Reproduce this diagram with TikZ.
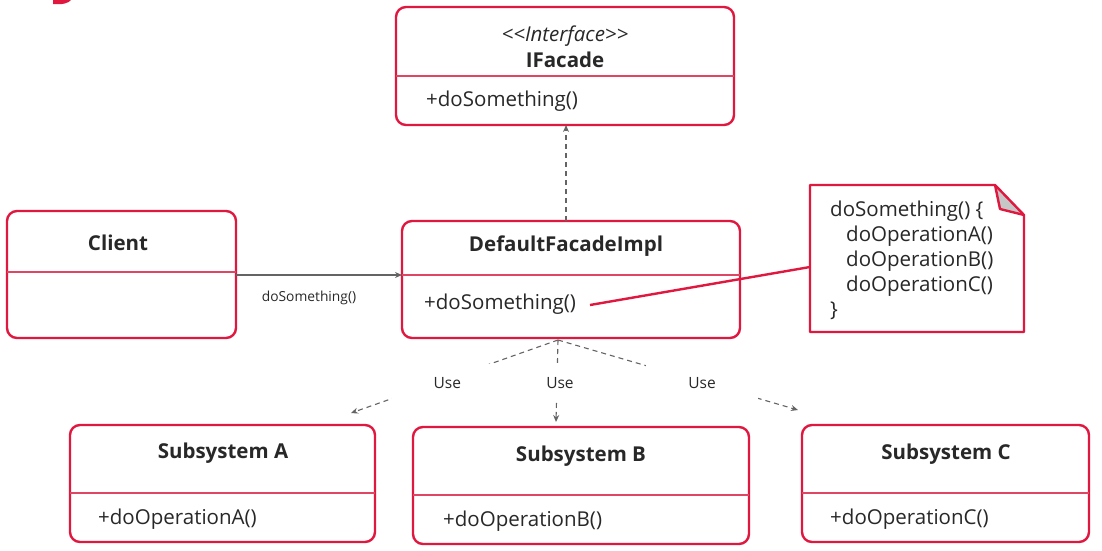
\documentclass[tikz,border=0pt]{standalone}
\usepackage{fontspec}
\setmainfont{Open Sans}
\usetikzlibrary{arrows.meta}
\definecolor{umlred}{RGB}{224,23,63}
\definecolor{divred}{RGB}{222,70,100}
\definecolor{txt}{RGB}{40,40,40}
\definecolor{lgrey}{RGB}{100,100,100}
\tikzset{
  cls/.style={draw=umlred, line width=2.4pt, rounded corners=10pt, rectangle, inner sep=0pt, outer sep=0pt, anchor=north west, fill=white},
  divline/.style={draw=divred, line width=1.1pt},
  title/.style={font=\fontsize{20.5}{22}\selectfont\bfseries, text=txt, inner sep=0pt},
  member/.style={font=\fontsize{20.5}{22}\selectfont, text=txt, inner sep=0pt, anchor=west},
  conn/.style={draw=lgrey, line width=1.1pt, -{Stealth[length=7pt,width=6pt]}},
  dep/.style={draw=lgrey, line width=1.1pt, dash pattern=on 5pt off 4pt, -{Stealth[length=7pt,width=6pt]}},
  uselabel/.style={font=\fontsize{15.5}{17}\selectfont, text=txt, fill=white, inner xsep=42pt, inner ysep=13pt},
  smalllabel/.style={font=\fontsize{13.8}{15}\selectfont, text=txt, inner sep=0pt},
}
\begin{document}
\begin{tikzpicture}[x=1pt,y=-1pt]
\useasboundingbox (0,0) rectangle (1102,550);
% top-left mark
\fill[umlred] (53,0) -- (71,0) .. controls (69,3) and (62,5) .. (53,4) -- cycle;

% IFacade
\node[cls, minimum width=338pt, minimum height=118pt] (ifc) at (396,7) {};
\draw[divline] (396,76) -- (734,76);
\node[font=\fontsize{20.5}{22}\selectfont\itshape, text=txt, inner sep=0pt] (ifcst) at (565,36) {<{}<Interface>{}>};
\node[title] (ifct) at (565,60) {IFacade};
\node[member] (ifcm) at (426,101) {+doSomething()};

% Client
\node[cls, minimum width=229pt, minimum height=127pt] (cli) at (7,211) {};
\draw[divline] (7,272) -- (236,272);
\node[title] (clit) at (118,243) {Client};

% DefaultFacadeImpl
\node[cls, minimum width=338pt, minimum height=117pt] (dfi) at (402,221) {};
\draw[divline] (402,275) -- (740,275);
\node[title] (dfit) at (566,246) {DefaultFacadeImpl};
\node[member] (dfim) at (424,304) {+doSomething()};

% Note
\coordinate (nA) at (810,185);
\coordinate (nB) at (995,185);
\coordinate (nC) at (1024,215);
\coordinate (nD) at (1024,332);
\coordinate (nE) at (810,332);
\fill[white] (nA) -- (nB) -- (nC) -- (nD) -- (nE) -- cycle;
\filldraw[fill=gray!45, draw=umlred, line width=2.4pt, line join=round] (nB) -- (1000,209) -- (nC);
\draw[umlred, line width=2.4pt, line join=round] (nA) -- (nB) -- (nC) -- (nD) -- (nE) -- cycle;
\node[font=\fontsize{20.5}{25}\selectfont, text=txt, inner sep=0pt, anchor=north west, align=left] (note) at (830,201)
 {doSomething() \{\\\hspace*{16pt}doOperationA()\\\hspace*{16pt}doOperationB()\\\hspace*{16pt}doOperationC()\\\}};
\coordinate (noteL) at (810,267);
\coordinate (dfimE) at (590,305);
\draw[umlred, line width=2.4pt] (dfimE) -- (noteL);

% Subsystems
\node[cls, minimum width=305pt, minimum height=117pt] (sa) at (70,425) {};
\draw[divline] (70,493) -- (375,493);
\node[title] (sat) at (223,453) {Subsystem A};
\node[member] (sam) at (98,519) {+doOperationA()};

\node[cls, minimum width=336pt, minimum height=117pt] (sb) at (413,427) {};
\draw[divline] (413,495) -- (749,495);
\node[title] (sbt) at (581,456) {Subsystem B};
\node[member] (sbm) at (443,521) {+doOperationB()};

\node[cls, minimum width=287pt, minimum height=117pt] (sc) at (802,425) {};
\draw[divline] (802,493) -- (1089,493);
\node[title] (sct) at (946,454) {Subsystem C};
\node[member] (scm) at (830,519) {+doOperationC()};

% Client -> DefaultFacadeImpl
\coordinate (cliE) at (236,275);
\coordinate (dfiW) at (402,275);
\draw[conn] (cliE) -- (dfiW);
\node[smalllabel] (dsl) at (309,298) {doSomething()};

% realization
\coordinate (dfiN) at (566,221);
\coordinate (ifcS) at (566,125);
\draw[dep] (dfiN) -- (ifcS);

% Use dependencies
\coordinate (src) at (558,340);
\coordinate (eA) at (351,413);
\coordinate (eB) at (556,422);
\coordinate (eC) at (798,410);
\draw[dep] (src) -- node[uselabel, pos=0.535, yshift=-4pt] (uA) {Use} (eA);
\draw[dep] (src) -- node[uselabel, pos=0.52, inner ysep=14pt, xshift=3pt] (uB) {Use} (eB);
\draw[dep] (src) -- node[uselabel, pos=0.60, yshift=-1pt] (uC) {Use} (eC);
\end{tikzpicture}
\end{document}
